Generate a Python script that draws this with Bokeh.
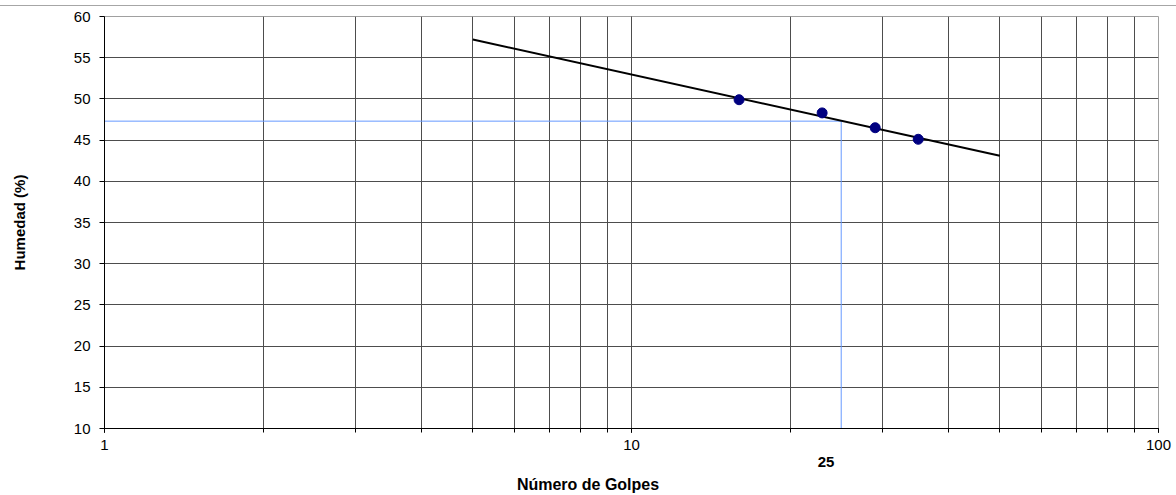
from bokeh.plotting import figure
from bokeh.models import Range1d, LogTicker, FixedTicker, Div, LogAxis, CustomJSTickFormatter
from bokeh.layouts import column
from bokeh.embed import file_html
from bokeh.resources import INLINE

# data
golpes = [16, 23, 29, 35]
humedad = [49.9, 48.3, 46.5, 45.1]
trend_x = [5, 50]
trend_y = [57.2, 43.1]
ll_golpes = 25
ll_humedad = 47.3
y_ticks = [10, 15, 20, 25, 30, 35, 40, 45, 50, 55, 60]
x_ticks = [1, 10, 100]

FONT = "Liberation Sans"
LL_LABEL_POS = 23.4  # where the "25" caption sits under the axis

p = figure(width=1176, height=469, x_axis_type="log",
           x_range=Range1d(1, 100), y_range=Range1d(10, 60),
           output_backend="svg", toolbar_location=None,
           min_border_left=104, min_border_right=18,
           min_border_top=10, min_border_bottom=47)
p.background_fill_color = "white"
p.border_fill_color = "white"
p.outline_line_color = "#a0a0a0"

p.xaxis.ticker = LogTicker(num_minor_ticks=10)
p.yaxis.ticker = FixedTicker(ticks=y_ticks)

for ax in (p.xaxis[0], p.yaxis[0]):
    ax.axis_line_color = "black"
    ax.axis_line_width = 1
    ax.major_tick_line_color = "black"
    ax.minor_tick_line_color = "black"
    ax.major_tick_in = 0
    ax.minor_tick_in = 0
    ax.major_label_text_font = FONT
    ax.major_label_text_font_size = "15px"
    ax.major_label_text_color = "black"

p.xaxis.major_tick_out = 4
p.xaxis.minor_tick_out = 4
p.xaxis.major_label_standoff = 7
p.yaxis.major_tick_out = 5
p.yaxis.minor_tick_out = 0
p.yaxis.major_label_standoff = 9

p.xaxis.major_label_overrides = {1: "1", 10: "10", 100: "100"}

p.yaxis.axis_label = "Humedad (%)"
p.yaxis.axis_label_text_font = FONT
p.yaxis.axis_label_text_font_size = "15px"
p.yaxis.axis_label_text_font_style = "bold"
p.yaxis.axis_label_text_color = "black"
p.yaxis.axis_label_standoff = 43

p.xgrid.grid_line_color = "#4d4d4d"
p.xgrid.minor_grid_line_color = "#4d4d4d"
p.ygrid.grid_line_color = "#4d4d4d"
p.xgrid.grid_line_width = 1
p.ygrid.grid_line_width = 1

# secondary axis carrying the "25" caption
ll_axis = LogAxis(ticker=FixedTicker(ticks=[LL_LABEL_POS]),
                  formatter=CustomJSTickFormatter(code="return '%d';" % ll_golpes),
                  axis_line_color=None, major_tick_line_color=None,
                  minor_tick_line_color=None, major_tick_out=0, major_tick_in=0,
                  major_label_standoff=4, major_label_text_font=FONT,
                  major_label_text_font_size="15px", major_label_text_font_style="bold",
                  major_label_text_color="black")
p.add_layout(ll_axis, "below")

# blue liquid-limit guide lines
p.line([1, ll_golpes], [ll_humedad, ll_humedad], line_color="#6699ff", line_width=1)
p.line([ll_golpes, ll_golpes], [10, ll_humedad], line_color="#6699ff", line_width=1)

# trend line
p.line(trend_x, trend_y, line_color="black", line_width=2)

# points
p.scatter(golpes, humedad, size=10, fill_color="#000080", line_color="#000080")

top = Div(text="", width=1176, height=6, margin=0,
          styles={"border-bottom": "1px solid #a6a6a6", "box-sizing": "border-box"})
bottom = Div(text="Número de Golpes", width=1176, height=20, margin=0,
             styles={"text-align": "center", "font-family": FONT, "font-size": "16px",
                     "font-weight": "bold", "line-height": "20px", "color": "black"})
layout = column(top, p, bottom, spacing=0)

open("out.html", "w").write(file_html(layout, INLINE))
